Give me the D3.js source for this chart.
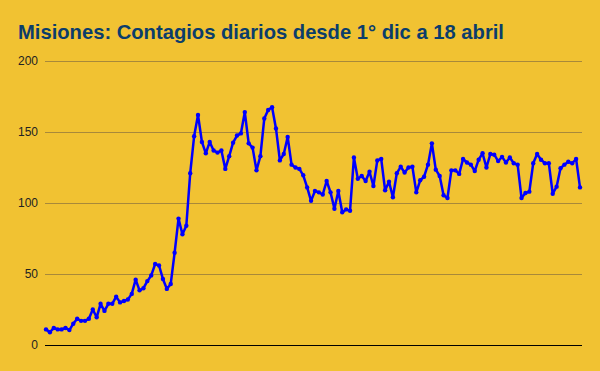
<!DOCTYPE html>
<html>
<head>
<meta charset="utf-8">
<script src="https://cdn.jsdelivr.net/npm/d3@7"></script>
<style>
  body { margin: 0; background: #f1c232; }
  svg { display: block; }
</style>
</head>
<body>
<div id="chart"></div>
<script>
// chart dims
var width = 600;
var height = 371;

// title + ticks
var title = "Misiones: Contagios diarios desde 1° dic a 18 abril";
var yTicks = [0, 50, 100, 150, 200];

// daily cases, 1 dic -> 18 abril
var cases = [
    11, 9, 12, 11, 11, 12, 10.5, 15, 18.5, 17,
    17, 18.5, 25, 19.5, 29, 24, 29, 29, 34, 30,
    31, 32, 36, 46, 38.5, 40, 45, 49, 57, 56,
    46.5, 39.5, 43, 65, 89, 78, 84, 121, 147, 162,
    143, 135, 143, 137, 135.5, 137, 124, 133, 142.5, 147.5,
    149, 164, 142, 139, 123, 133, 159.5, 165.5, 167.5, 152.5,
    130, 134.5, 146.5, 127, 125, 124, 119.5, 111, 101.5, 108.5,
    107.5, 106, 115.5, 107.5, 96, 108.5, 93.5, 95.5, 94.5, 132,
    117, 119, 115.5, 122, 112, 130, 131, 109, 115, 104,
    121, 125.5, 121.5, 125, 125.5, 107.5, 116, 118.5, 127, 142,
    123.5, 119, 105.5, 103.5, 123, 123, 120.5, 131, 128.5, 127,
    122.5, 130.5, 135, 125, 134.5, 134, 129.5, 132.5, 128.5, 132,
    128, 127, 103.5, 107, 108, 128, 134.5, 130.5, 128, 128,
    106.5, 111.5, 124.5, 127, 129, 128, 131, 111
];

var margin = {top: 61, right: 18, bottom: 26, left: 45};

var svg = d3.select("#chart").append("svg")
    .attr("width", width)
    .attr("height", height);

svg.append("rect")
    .attr("width", width)
    .attr("height", height)
    .attr("fill", "#f1c232");

svg.append("text")
    .attr("x", 18)
    .attr("y", 39)
    .attr("font-family", "Liberation Sans, Arial, sans-serif")
    .attr("font-weight", "bold")
    .attr("font-size", 20.2)
    .attr("fill", "#0b3d6b")
    .text(title);

var xScale = d3.scaleLinear()
    .domain([0, cases.length - 1])
    .range([margin.left + 1, width - margin.right - 2]);

var yScale = d3.scaleLinear()
    .domain([0, 200])
    .range([height - margin.bottom, margin.top]);

// gridlines + labels
var yAxis = d3.axisLeft(yScale)
    .tickValues(yTicks)
    .tickSize(-(width - margin.left - margin.right))
    .tickPadding(7);

var gy = svg.append("g")
    .attr("transform", "translate(" + margin.left + ",0)")
    .call(yAxis);

gy.select(".domain").remove();
gy.selectAll(".tick line")
    .attr("stroke", function(d) { return d === 0 ? "#000" : "#a8893a"; })
    .attr("stroke-width", 1);
gy.selectAll(".tick text")
    .attr("font-family", "Liberation Sans, Arial, sans-serif")
    .attr("font-size", 12)
    .attr("fill", "#222");

// line
var line = d3.line()
    .x(function(d, i) { return xScale(i); })
    .y(function(d) { return yScale(d); });

svg.append("path")
    .datum(cases)
    .attr("d", line)
    .attr("fill", "none")
    .attr("stroke", "#0000ff")
    .attr("stroke-width", 2.5)
    .attr("stroke-linejoin", "round");

svg.selectAll("circle.pt")
    .data(cases).enter()
    .append("circle")
    .attr("class", "pt")
    .attr("cx", function(d, i) { return xScale(i); })
    .attr("cy", function(d) { return yScale(d); })
    .attr("r", 2.2)
    .attr("fill", "#0000ff");
</script>
</body>
</html>
